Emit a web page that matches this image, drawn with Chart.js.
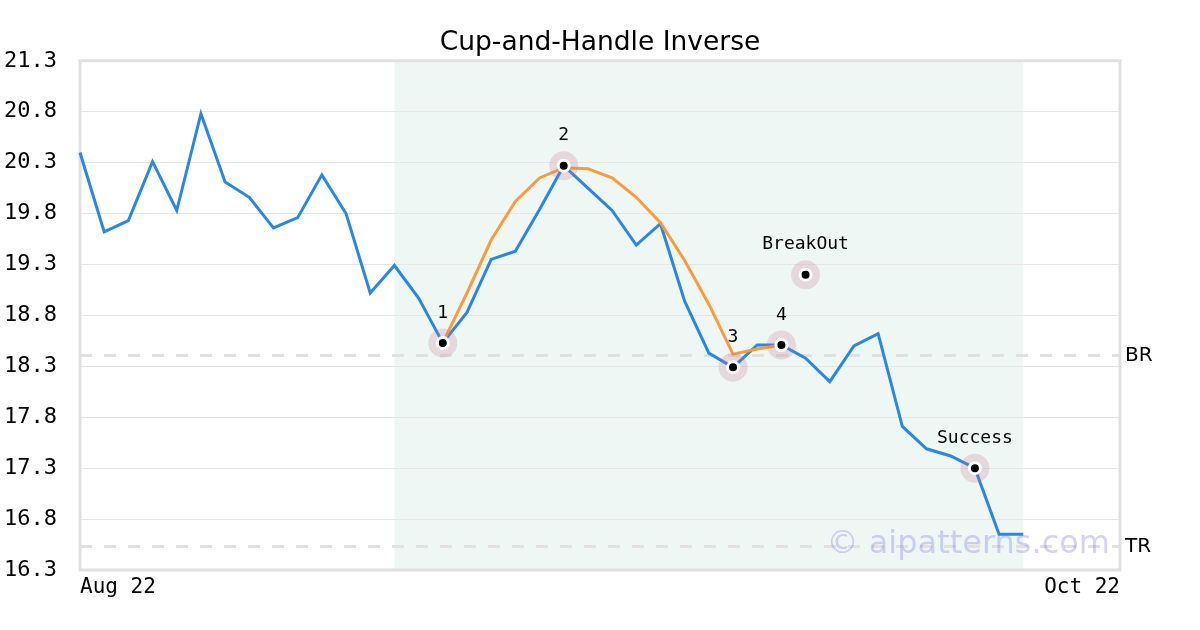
<!doctype html>
<html><head><meta charset="utf-8"><title>Cup-and-Handle Inverse</title>
<style>html,body{margin:0;padding:0;background:#fff}</style>
</head>
<body>
<canvas id="c" width="1200" height="630"></canvas>
<script src="https://cdn.jsdelivr.net/npm/chart.js"></script>
<script>
// data
const slotCount = 44
const xTickLabels = ['Aug 22', 'Oct 22']
const price = [20.40, 19.62, 19.73, 20.31, 19.83, 20.78, 20.11, 19.96, 19.66, 19.76,
  20.18, 19.80, 19.02, 19.29, 18.97, 18.53, 18.83, 19.35, 19.43, 19.84,
  20.27, 20.05, 19.83, 19.49, 19.70, 18.94, 18.43, 18.29, 18.51, 18.51,
  18.38, 18.15, 18.50, 18.62, 17.71, 17.49, 17.42, 17.30, 16.65, 16.65]
const cupStart = 15
const cupLine = [18.53, 19.02, 19.54, 19.92, 20.15, 20.25, 20.24, 20.15, 19.96, 19.71,
  19.34, 18.91, 18.42, 18.47, 18.51]
const markIdx = [15, 20, 27, 29, 30, 37]
const markVal = [18.53, 20.27, 18.29, 18.51, 19.20, 17.30]
const markText = ['1', '2', '3', '4', 'BreakOut', 'Success']
const levelNames = ['BR', 'TR']
const levelVals = [18.41, 16.54]
const shadeFrom = 13
const shadeTo = 39
const yMin = 16.3, yMax = 21.3, yStep = 0.5

const labels = Array.from({ length: slotCount }, (_, i) =>
  i === 0 ? xTickLabels[0] : i === slotCount - 1 ? xTickLabels[1] : '')
const pad = (arr, start) => {
  const out = new Array(slotCount).fill(null)
  arr.forEach((v, i) => { out[start + i] = v })
  return out
}
const marks = new Array(slotCount).fill(null)
markIdx.forEach((ix, k) => { marks[ix] = markVal[k] })

const MONO = '"DejaVu Sans Mono", monospace'
const SANS = '"DejaVu Sans", sans-serif'

const decor = {
  id: 'decor',
  beforeDraw(chart) {
    const { ctx, chartArea: a, scales: { x } } = chart
    const x0 = x.getPixelForValue(shadeFrom), x1 = x.getPixelForValue(shadeTo)
    ctx.save()
    ctx.fillStyle = '#eff7f4'
    ctx.fillRect(x0, a.top, x1 - x0, a.bottom - a.top)
    ctx.restore()
  },
  beforeDatasetsDraw(chart) {
    const { ctx, chartArea: a, scales: { y } } = chart
    ctx.save()
    ctx.strokeStyle = '#e0e0e0'
    ctx.lineWidth = 3
    ctx.setLineDash([12, 12])
    levelVals.forEach((v) => {
      const py = Math.round(y.getPixelForValue(v)) + 0.5
      ctx.beginPath()
      ctx.moveTo(a.left, py)
      ctx.lineTo(a.right, py)
      ctx.stroke()
    })
    ctx.setLineDash([])
    ctx.strokeRect(a.left, a.top, a.right - a.left, a.bottom - a.top)
    ctx.restore()
  },
  afterDatasetsDraw(chart) {
    const { ctx, scales: { x, y } } = chart
    ctx.save()
    ctx.fillStyle = '#000'
    ctx.font = '18px ' + MONO
    ctx.textAlign = 'center'
    ctx.textBaseline = 'middle'
    markIdx.forEach((ix, k) => {
      ctx.fillText(markText[k], x.getPixelForValue(ix), y.getPixelForValue(markVal[k]) - 30)
    })
    ctx.restore()
  },
  afterDraw(chart) {
    const { ctx, chartArea: a, scales: { y } } = chart
    ctx.save()
    ctx.fillStyle = '#000'
    ctx.font = '20px ' + SANS
    ctx.textAlign = 'left'
    ctx.textBaseline = 'middle'
    levelVals.forEach((v, k) => {
      ctx.fillText(levelNames[k], a.right + 5, y.getPixelForValue(v) + 1)
    })
    ctx.font = '32px ' + SANS
    ctx.textAlign = 'right'
    ctx.textBaseline = 'alphabetic'
    ctx.fillStyle = 'rgba(110, 110, 240, 0.3)'
    ctx.fillText('\u00a9 aipatterns.com', a.right - 10, a.bottom - 17)
    ctx.restore()
  }
}

new Chart(document.getElementById('c').getContext('2d'), {
  type: 'line',
  data: {
    labels,
    datasets: [
      { data: marks, showLine: false, pointRadius: 5.5, pointBackgroundColor: '#000',
        pointBorderColor: '#fff', pointBorderWidth: 3, order: 0 },
      { data: marks, showLine: false, pointRadius: 14.5, pointBackgroundColor: 'rgba(190, 110, 140, 0.22)',
        pointBorderWidth: 0, order: 1 },
      { data: pad(cupLine, cupStart), borderColor: '#f99b3e', borderWidth: 3, pointRadius: 0,
        tension: 0, spanGaps: false, order: 2 },
      { data: pad(price, 0), borderColor: '#2b87e5', borderWidth: 3, pointRadius: 0,
        tension: 0, order: 3 }
    ]
  },
  options: {
    responsive: false,
    animation: false,
    events: [],
    devicePixelRatio: 1,
    layout: { padding: 0 },
    plugins: {
      legend: { display: false },
      tooltip: { enabled: false },
      title: {
        display: true,
        text: 'Cup-and-Handle Inverse',
        color: '#000',
        font: { family: SANS, size: 26.5, weight: 'normal' },
        padding: { top: 27, bottom: 2 }
      }
    },
    scales: {
      x: {
        grid: { display: false, drawTicks: false },
        border: { display: false },
        afterFit: (s) => { s.height = 60 },
        ticks: {
          autoSkip: false, maxRotation: 0, align: 'inner', padding: 5,
          color: '#000', font: { family: MONO, size: 21 }
        }
      },
      y: {
        min: yMin, max: yMax,
        grid: { color: '#e6e6e6', lineWidth: 1, drawTicks: false },
        border: { display: false },
        afterFit: (s) => { s.width = 80 },
        ticks: {
          stepSize: yStep, padding: 23, color: '#000',
          font: { family: MONO, size: 22 },
          callback: (v) => Number(v).toFixed(1)
        }
      },
      // empty right-hand strip that holds the BR / TR labels
      yRight: {
        position: 'right',
        grid: { display: false, drawTicks: false },
        border: { display: false },
        ticks: { display: false },
        afterFit: (s) => { s.width = 80 }
      }
    }
  },
  plugins: [decor]
})
</script>
</body></html>
